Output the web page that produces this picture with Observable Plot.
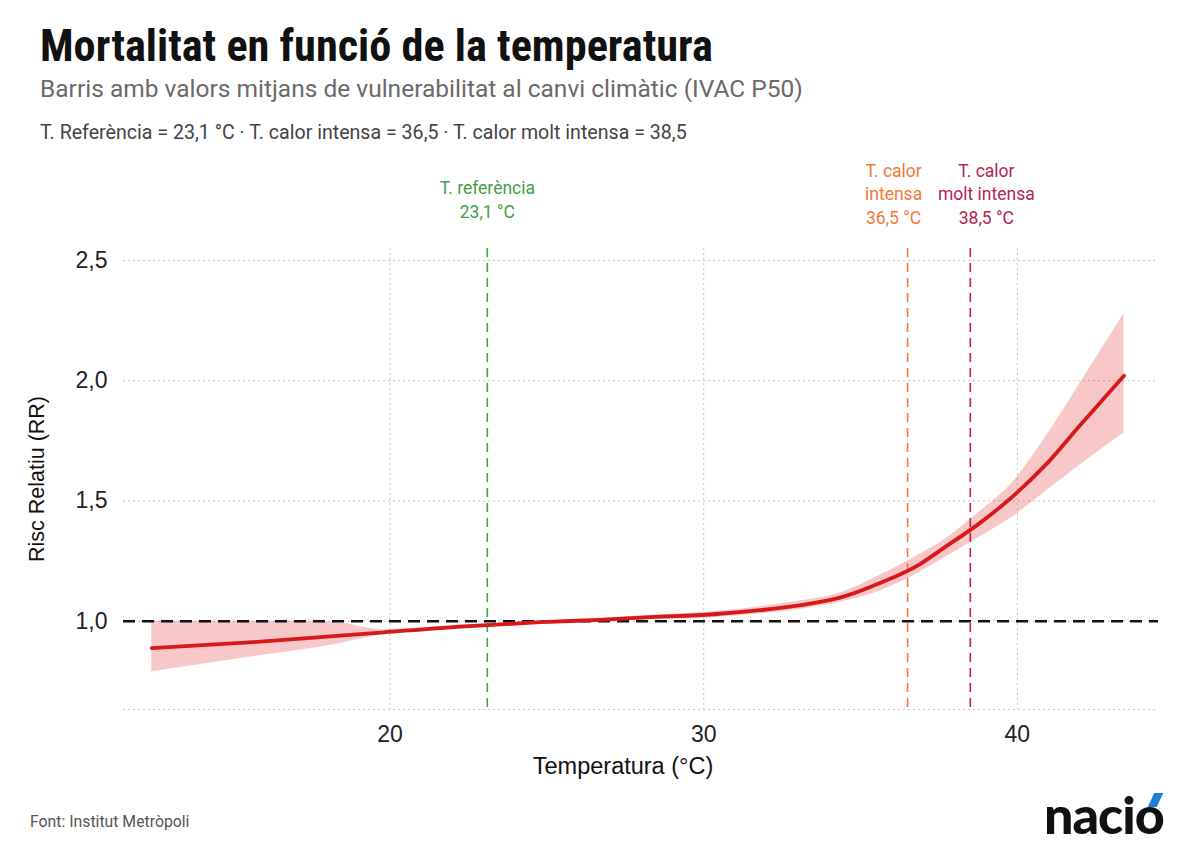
<!DOCTYPE html>
<html>
<head>
<meta charset="utf-8">
<script src="https://cdn.jsdelivr.net/npm/d3@7"></script>
<script src="https://cdn.jsdelivr.net/npm/@observablehq/plot@0.6"></script>
<style>
  html, body { margin: 0; padding: 0; background: #fff; }
  body {
    width: 1200px; height: 849px; position: relative; overflow: hidden;
    font-family: Roboto, "Liberation Sans", sans-serif;
  }
  #title { position: absolute; left: 40px; top: 24px; margin: 0; font-family: "Liberation Sans Narrow", "Roboto Condensed", "DejaVu Sans Condensed", sans-serif; font-size: 44.3px; font-weight: 700; line-height: 1; color: #111; white-space: nowrap; }
  #subtitle { position: absolute; left: 40px; top: 77px; font-size: 24.5px; line-height: 1; color: #6a6a6a; white-space: nowrap; }
  #note { position: absolute; left: 40px; top: 123px; font-size: 19.6px; line-height: 1; color: #444; white-space: nowrap; }
  #chart { position: absolute; left: 0; top: 150px; }
  #source { position: absolute; left: 30px; top: 814px; font-size: 15.8px; line-height: 1; color: #555; white-space: nowrap; }
  #logo { position: absolute; left: 1044px; top: 788px; font-family: Lato, "Open Sans", sans-serif; font-weight: 900; font-size: 52px; line-height: 1; letter-spacing: -1px; color: #111; white-space: nowrap; }
  #logo .o { position: relative; display: inline-block; }
  #logo .accent { position: absolute; left: 16px; top: 5px; width: 9px; height: 14px; background: #1f7fd6; transform: skewX(-25deg); }
</style>
</head>
<body>
<h1 id="title">Mortalitat en funció de la temperatura</h1>
<div id="subtitle">Barris amb valors mitjans de vulnerabilitat al canvi climàtic (IVAC P50)</div>
<div id="note">T. Referència = 23,1 °C · T. calor intensa = 36,5 · T. calor molt intensa = 38,5</div>
<div id="chart"></div>
<div id="source">Font: Institut Metròpoli</div>
<div id="logo">naci<span class="o">o<span class="accent"></span></span></div>
<script>
// Relative risk of mortality by daily temperature (°C), with its confidence band
const temperature = [12.4, 15.5, 18.1, 19.8, 22.4, 24.8, 26.7, 28.3, 30.3, 31.8, 33.1, 34.4, 35.6, 36.9, 37.6, 38.8, 39.8, 40.9, 42.0, 43.4];
const rr          = [0.888, 0.912, 0.937, 0.954, 0.979, 0.996, 1.006, 1.017, 1.029, 1.046, 1.067, 1.100, 1.158, 1.238, 1.300, 1.408, 1.513, 1.650, 1.815, 2.021];
const rrLow       = [0.790, 0.850, 0.900, 0.945, 0.972, 0.993, 1.000, 1.006, 1.015, 1.030, 1.050, 1.080, 1.125, 1.205, 1.258, 1.350, 1.429, 1.540, 1.650, 1.783];
const rrHigh      = [1.000, 1.000, 0.997, 0.965, 0.985, 1.000, 1.012, 1.025, 1.040, 1.060, 1.085, 1.120, 1.190, 1.280, 1.333, 1.455, 1.571, 1.765, 1.990, 2.279];

// Threshold temperatures
const thresholdNames  = ["T. referència", "T. calor\nintensa", "T. calor\nmolt intensa"];
const thresholdTemps  = [23.1, 36.5, 38.5];
const thresholdColors = ["#45a046", "#f47838", "#b62453"];
const thresholdShiftX = [0, -14, 16];
const thresholdShiftY = [-31, -25, -25];

const xTicks = [20, 30, 40];
const yTicks = [1.0, 1.5, 2.0, 2.5];
const baselineRR = 1;
const xDomain = [11.5, 44.5];
const yDomain = [0.633, 2.55];

const comma = d => d.toFixed(1).replace(".", ",");

const rows = temperature.map((t, i) => ({t, rr: rr[i], lo: rrLow[i], hi: rrHigh[i]}));
const thresholds = thresholdTemps.map((t, i) => ({
  t,
  label: `${thresholdNames[i]}\n${comma(t)} °C`,
  color: thresholdColors[i],
  dx: thresholdShiftX[i],
  dy: thresholdShiftY[i]
}));

const dotted = {stroke: "#c4c4c4", strokeOpacity: 1, strokeWidth: 1, strokeDasharray: "2,3"};

const chart = Plot.plot({
  width: 1200,
  height: 640,
  marginLeft: 123,
  marginRight: 42,
  marginTop: 98,
  marginBottom: 81,
  style: {fontFamily: "'Liberation Sans', Arial, sans-serif", fontSize: "23px", color: "#222", background: "transparent"},
  x: {domain: xDomain},
  y: {domain: yDomain},
  color: {type: "identity"},
  marks: [
    Plot.gridX(xTicks, dotted),
    Plot.gridY(yTicks, dotted),
    Plot.ruleY([yDomain[0]], dotted),
    Plot.axisX({ticks: xTicks, tickSize: 0, tickPadding: 16, tickFormat: d => `${d}`, label: null, fontSize: 23}),
    Plot.axisY({ticks: yTicks, tickSize: 0, tickPadding: 16, tickFormat: comma, label: null, fontSize: 23}),
    Plot.areaY(rows, {x: "t", y1: "lo", y2: "hi", fill: "#e31a1c", fillOpacity: 0.24, curve: "monotone-x"}),
    Plot.ruleY([baselineRR], {stroke: "#111", strokeWidth: 2.6, strokeDasharray: "12,7"}),
    Plot.ruleX(thresholds, {x: "t", stroke: "color", strokeWidth: 1.6, strokeDasharray: "9,6"}),
    Plot.lineY(rows, {x: "t", y: "rr", stroke: "#d7191c", strokeWidth: 3.8, curve: "monotone-x"}),
    ...thresholds.map(th => Plot.text([th], {
      x: "t", text: "label", fill: "color", frameAnchor: "top", lineAnchor: "bottom",
      dy: th.dy, dx: th.dx, fontSize: 17.5, lineHeight: 1.32, fontFamily: "Roboto, sans-serif"
    })),
    Plot.text(["Risc Relatiu (RR)"], {frameAnchor: "left", textAnchor: "middle", rotate: -90, dx: -86, fontSize: 21.5, fill: "#111"}),
    Plot.text(["Temperatura (°C)"], {frameAnchor: "bottom", textAnchor: "middle", dy: 64, dx: -18, fontSize: 23.5, fill: "#111"})
  ]
});

document.getElementById("chart").appendChild(chart);
</script>
</body>
</html>
